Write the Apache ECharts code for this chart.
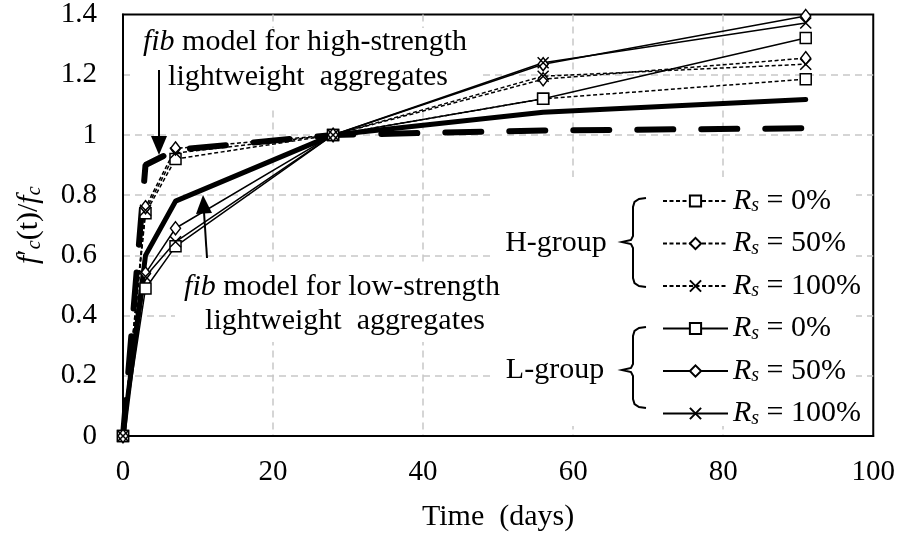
<!DOCTYPE html>
<html><head><meta charset="utf-8">
<script src="https://cdn.jsdelivr.net/npm/echarts@6/dist/echarts.min.js"></script>
<style>html,body{margin:0;padding:0;background:#fff}#c{width:898px;height:537px}</style>
</head><body><div id="c"></div>
<script>
// ---- data ----
const days = [0, 3, 7, 28, 56, 91];
const H0   = [0, 0.74, 0.92, 1.0, 1.12, 1.185];
const H50  = [0, 0.76, 0.955, 1.0, 1.185, 1.255];
const H100 = [0, 0.75, 0.94, 1.0, 1.195, 1.235];
const L0   = [0, 0.49, 0.63, 1.0, 1.12, 1.322];
const L50  = [0, 0.54, 0.69, 1.0, 1.235, 1.395];
const L100 = [0, 0.53, 0.645, 1.0, 1.24, 1.372];
const fibHigh = [0, 0.90, 0.95, 1.0, 1.015, 1.022];
const fibLow  = [0, 0.60, 0.78, 1.0, 1.075, 1.118];
const seriesNames = ['H0', 'H50', 'H100', 'L0', 'L50', 'L100'];
const legendLabels = {H0: '0%', H50: '50%', H100: '100%', L0: '0%', L50: '50%', L100: '100%'};
const xTicks = [0, 20, 40, 60, 80, 100];
const yTicks = [0, 0.2, 0.4, 0.6, 0.8, 1.0, 1.2, 1.4];

const FONT = 'Liberation Serif';
const FS = 30;
const pts = arr => days.map((d, i) => [d, arr[i]]);
const crossPath = 'path://M0,0L10,10M10,0L0,10';
const markerStyle = {color: '#fff', borderColor: '#000', borderWidth: 1.5};

function dataSeries(name, arr, symbol, dashed, size) {
  return {
    name, type: 'line', data: pts(arr), symbol, symbolSize: size,
    z: 4,
    lineStyle: {color: '#000', width: 1.5, type: dashed ? [4, 2.5] : 'solid'},
    itemStyle: markerStyle,
    emphasis: {disabled: true}, animation: false
  };
}
function brace(top, mid, bot) {
  return [[646, top], [639, top + 1], [634.5, top + 4], [633, top + 9], [633, mid - 6], [631, mid - 2], [622, mid],
          [631, mid + 2], [633, mid + 6], [633, bot - 9], [634.5, bot - 4], [639, bot - 1], [646, bot]];
}
const gridLine = {show: true, showMinLine: false, showMaxLine: false, lineStyle: {color: '#c8c8c8', width: 1.5, type: [7, 5]}};
const font = FS + 'px "Liberation Serif"';

const chart = echarts.init(document.getElementById('c'));
chart.setOption({
  animation: false,
  backgroundColor: '#fff',
  textStyle: {fontFamily: FONT},
  grid: {left: 123, right: 23, top: 12, bottom: 100, show: true, borderColor: '#000', borderWidth: 2, containLabel: false},
  xAxis: {
    type: 'value', min: xTicks[0], max: xTicks[xTicks.length - 1], interval: 20,
    name: 'Time  (days)', nameLocation: 'middle', nameGap: 66,
    nameTextStyle: {fontFamily: FONT, fontSize: FS, color: '#000'},
    axisLine: {lineStyle: {color: '#000', width: 2}},
    axisTick: {show: false},
    axisLabel: {fontFamily: FONT, fontSize: 29, color: '#000', margin: 22},
    splitLine: gridLine
  },
  yAxis: {
    type: 'value', min: yTicks[0], max: yTicks[yTicks.length - 1], interval: 0.2,
    name: '{i|f}{n|\u2032}{s|c}{n|(t)/}{i|f}{s|c}', nameLocation: 'middle', nameGap: 78, nameRotate: 90,
    nameTextStyle: {
      fontFamily: FONT, fontSize: FS, color: '#000', lineHeight: 32,
      rich: {
        i: {fontFamily: FONT, fontSize: FS, fontStyle: 'italic', color: '#000', lineHeight: 32},
        n: {fontFamily: FONT, fontSize: FS, color: '#000', lineHeight: 32},
        s: {fontFamily: FONT, fontSize: 20, fontStyle: 'italic', color: '#000', lineHeight: 16, verticalAlign: 'bottom'}
      }
    },
    axisLine: {show: true, lineStyle: {color: '#000', width: 2}},
    axisTick: {show: false},
    axisLabel: {fontFamily: FONT, fontSize: 29, color: '#000', margin: 26,
      formatter: v => (Math.round(v * 10) / 10).toString()},
    splitLine: gridLine
  },
  legend: {
    data: seriesNames, orient: 'vertical', left: 657, top: 181, padding: 5,
    itemWidth: 65, itemHeight: 14, itemGap: 12.5,
    selectedMode: false,
    formatter: n => '{i|R}{s|s}{t| = ' + legendLabels[n] + '}',
    textStyle: {
      fontFamily: FONT, fontSize: FS, color: '#000', lineHeight: 30,
      rich: {
        i: {fontFamily: FONT, fontSize: FS, fontStyle: 'italic', color: '#000', lineHeight: 30},
        s: {fontFamily: FONT, fontSize: 20, fontStyle: 'italic', color: '#000', lineHeight: 14, verticalAlign: 'bottom'},
        t: {fontFamily: FONT, fontSize: FS, color: '#000', lineHeight: 30}
      }
    }
  },
  graphic: [
    {type: 'rect', z: 1, shape: {x: 135, y: 28, width: 345, height: 82}, style: {fill: '#fff'}},
    {type: 'rect', z: 1, shape: {x: 175, y: 262, width: 337, height: 80}, style: {fill: '#fff'}},
    {type: 'rect', z: 1, shape: {x: 490, y: 177, width: 366, height: 249}, style: {fill: '#fff'}},
    {type: 'text', z: 6, style: {x: 305, y: 42, text: '{i|fib} model for high-strength', align: 'center', verticalAlign: 'middle',
      font, fill: '#000',
      rich: {i: {fontFamily: FONT, fontSize: FS, fontStyle: 'italic', fill: '#000'}}}},
    {type: 'text', z: 6, style: {x: 308, y: 77, text: 'lightweight  aggregates', align: 'center', verticalAlign: 'middle',
      font, fill: '#000'}},
    {type: 'line', z: 6, shape: {x1: 159, y1: 70, x2: 159, y2: 138}, style: {stroke: '#000', lineWidth: 2}},
    {type: 'polygon', z: 6, shape: {points: [[151, 136], [167, 136], [159, 155]]}, style: {fill: '#000'}},
    {type: 'text', z: 6, style: {x: 342, y: 287, text: '{i|fib} model for low-strength', align: 'center', verticalAlign: 'middle',
      font, fill: '#000',
      rich: {i: {fontFamily: FONT, fontSize: FS, fontStyle: 'italic', fill: '#000'}}}},
    {type: 'text', z: 6, style: {x: 345, y: 321, text: 'lightweight  aggregates', align: 'center', verticalAlign: 'middle',
      font, fill: '#000'}},
    {type: 'line', z: 6, shape: {x1: 207, y1: 258, x2: 204, y2: 212}, style: {stroke: '#000', lineWidth: 2}},
    {type: 'polygon', z: 6, shape: {points: [[196, 214], [212, 213], [203, 195]]}, style: {fill: '#000'}},
    {type: 'text', z: 6, style: {x: 556, y: 243, text: 'H-group', align: 'center', verticalAlign: 'middle', font, fill: '#000'}},
    {type: 'text', z: 6, style: {x: 555, y: 370, text: 'L-group', align: 'center', verticalAlign: 'middle', font, fill: '#000'}},
    {type: 'polyline', z: 6, shape: {points: brace(198, 242, 287)}, style: {stroke: '#000', lineWidth: 2, fill: null}},
    {type: 'polyline', z: 6, shape: {points: brace(327, 370, 408)}, style: {stroke: '#000', lineWidth: 2, fill: null}}
  ],
  series: [
    {name: 'fibHigh', type: 'line', data: pts(fibHigh), symbol: 'none', z: 3,
      lineStyle: {color: '#000', width: 6, type: [36, 28], cap: 'round'}, emphasis: {disabled: true}},
    {name: 'fibLow', type: 'line', data: pts(fibLow), symbol: 'none', z: 3,
      lineStyle: {color: '#000', width: 5, cap: 'round', join: 'round'}, emphasis: {disabled: true}},
    dataSeries('H0', H0, 'rect', true, 11),
    dataSeries('H50', H50, 'diamond', true, [10, 13]),
    dataSeries('H100', H100, crossPath, true, 11),
    dataSeries('L0', L0, 'rect', false, 11),
    dataSeries('L50', L50, 'diamond', false, [10, 13]),
    dataSeries('L100', L100, crossPath, false, 11)
  ]
});
</script>
</body></html>
